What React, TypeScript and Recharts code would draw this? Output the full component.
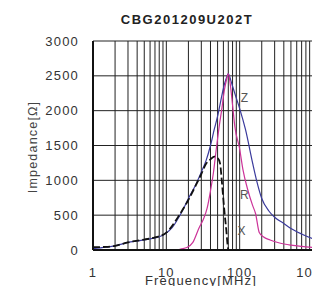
import { LineChart, Line, XAxis, YAxis, CartesianGrid, ReferenceDot, Label } from 'recharts';

const TITLE = 'CBG201209U202T';
const Y_LABEL = 'Impedance[Ω]';
const X_LABEL = 'Frequency[MHz]';

// log grid: 1..9 per decade
const freqTicks = [
  1, 2, 3, 4, 5, 6, 7, 8, 9,
  10, 20, 30, 40, 50, 60, 70, 80, 90,
  100, 200, 300, 400, 500, 600, 700, 800, 900,
  1000,
];
const decadeLabels = [1, 10, 100, 1000];
const impTicks = [0, 500, 1000, 1500, 2000, 2500, 3000];

// Z
const zFreq = [1, 1.5, 2, 3, 4, 5, 7, 8, 10, 12, 15, 18, 20, 25, 30, 35, 40, 45, 50, 55, 60, 65, 70, 75, 80, 90, 100, 120, 150, 170, 200, 250, 300, 400, 500, 700, 1000];
const zImp = [20, 40, 60, 110, 130, 145, 175, 190, 245, 320, 480, 640, 740, 930, 1120, 1290, 1500, 1730, 1920, 2130, 2320, 2450, 2530, 2450, 2350, 2180, 2030, 1730, 1250, 1000, 740, 560, 470, 380, 310, 230, 160];

// R
const rFreq = [1, 10, 14, 16, 19, 23, 28, 32, 36, 40, 44, 48, 53, 57, 62, 66, 70, 75, 80, 86, 100, 111, 130, 150, 165, 185, 210, 260, 350, 500, 700, 1000];
const rImp = [0, 0, 0, 15, 35, 110, 320, 440, 600, 850, 1120, 1450, 1800, 2020, 2300, 2440, 2530, 2350, 2080, 1770, 1450, 1150, 850, 640, 520, 250, 190, 143, 100, 70, 52, 38];

// X (reactance, shown until it crosses zero)
const xFreq = [1, 1.5, 2, 3, 5, 7, 10, 15, 20, 25, 30, 35, 40, 45, 50, 54, 57, 59, 62, 65.7, 68, 70];
const xImp = [40, 45, 60, 110, 150, 180, 250, 500, 720, 920, 1090, 1240, 1300, 1340, 1320, 1244, 1000, 813, 550, 287, 100, 0];

const zData = zFreq.map((f, i) => ({ f, v: zImp[i] }));
const rData = rFreq.map((f, i) => ({ f, v: rImp[i] }));
const xData = xFreq.map((f, i) => ({ f, v: xImp[i] }));

const TEXT = '#333';

export default function App() {
  return (
    <div
      style={{
        position: 'fixed',
        left: 0,
        top: 0,
        width: 312,
        height: 286,
        overflow: 'hidden',
        background: '#fff',
        fontFamily: '"Liberation Sans", Arial, sans-serif',
        letterSpacing: '1.2px',
      }}
    >
      <div
        style={{
          position: 'absolute',
          left: 0,
          top: 13,
          width: 374,
          textAlign: 'center',
          fontSize: 13,
          lineHeight: '13px',
          fontWeight: 'bold',
          color: '#222',
          letterSpacing: '1.5px',
        }}
      >
        {TITLE}
      </div>
      <LineChart width={345} height={286} margin={{ top: 41, right: 32, bottom: 0, left: 0 }}>
        <CartesianGrid stroke="#222" strokeWidth={1} />
        <XAxis
          dataKey="f"
          type="number"
          scale="log"
          domain={[1, 1000]}
          allowDataOverflow
          ticks={freqTicks}
          interval={0}
          height={36}
          tickLine={false}
          tickSize={6}
          tickMargin={12}
          axisLine={{ stroke: '#111', strokeWidth: 2 }}
          tick={{ fontSize: 13, fill: TEXT }}
          tickFormatter={(v: number) => (decadeLabels.includes(v) ? String(v) : '')}
        >
          <Label
            content={() => (
              <text x={201} y={285} textAnchor="middle" fontSize={13} fill={TEXT}>
                {X_LABEL}
              </text>
            )}
          />
        </XAxis>
        <YAxis
          type="number"
          domain={[0, 3000]}
          ticks={impTicks}
          interval={0}
          width={93}
          tickLine={false}
          tickSize={6}
          tickMargin={8}
          axisLine={{ stroke: '#111', strokeWidth: 2 }}
          tick={{ fontSize: 13, fill: TEXT }}
        >
          <Label
            content={() => (
              <text
                x={33}
                y={147}
                transform="rotate(-90, 33, 147)"
                textAnchor="middle"
                dominantBaseline="central"
                fontSize={12.5}
                fill="#444"
              >
                {Y_LABEL}
              </text>
            )}
          />
        </YAxis>
        <Line data={zData} dataKey="v" type="monotone" stroke="#3a3a9c" strokeWidth={1.2} dot={false} isAnimationActive={false} />
        <Line data={rData} dataKey="v" type="monotone" stroke="#cc3399" strokeWidth={1.2} dot={false} isAnimationActive={false} />
        <Line data={xData} dataKey="v" type="monotone" stroke="#111" strokeWidth={1.8} strokeDasharray="7 3" dot={false} isAnimationActive={false} />
        <ReferenceDot x={118} y={2180} r={0} fill="none" stroke="none" label={{ value: 'Z', position: 'center', fill: '#555', fontSize: 12 }} />
        <ReferenceDot x={118} y={790} r={0} fill="none" stroke="none" label={{ value: 'R', position: 'center', fill: '#555', fontSize: 12 }} />
        <ReferenceDot x={108} y={275} r={0} fill="none" stroke="none" label={{ value: 'X', position: 'center', fill: '#555', fontSize: 12 }} />
      </LineChart>
    </div>
  );
}
